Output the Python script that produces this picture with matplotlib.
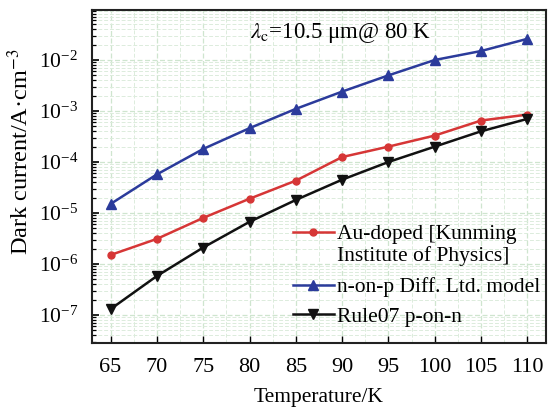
import matplotlib
matplotlib.use("Agg")
import matplotlib.pyplot as plt
from matplotlib.lines import Line2D
from matplotlib.ticker import LogLocator, MultipleLocator, NullFormatter

temps = [65, 70, 75, 80, 85, 90, 95, 100, 105, 110]
au_doped = [1.5e-6, 3.1e-6, 8.0e-6, 1.9e-5, 4.3e-5, 1.25e-4, 2.0e-4, 3.3e-4, 6.5e-4, 8.5e-4]
n_on_p = [1.5e-5, 5.7e-5, 1.8e-4, 4.6e-4, 1.1e-3, 2.4e-3, 5.0e-3, 1.0e-2, 1.5e-2, 2.6e-2]
rule07 = [1.3e-7, 5.8e-7, 2.1e-6, 6.7e-6, 1.8e-5, 4.5e-5, 1.0e-4, 2.0e-4, 4.0e-4, 7.0e-4]

labels = ["Au-doped [Kunming", "Institute of Physics]", "n-on-p Diff. Ltd. model", "Rule07 p-on-n"]

plt.rcParams['font.family'] = ['Liberation Serif', 'DejaVu Serif']
plt.rcParams['mathtext.fontset'] = 'stix'

fig = plt.figure(figsize=(5.51, 4.08), dpi=100)
ax = fig.add_axes([92/551, 1-343/408, (546-92)/551, (343-10)/408])

l1, = ax.plot(temps, au_doped, color='#d63636', marker='o', markersize=5, lw=1.8)
l2, = ax.plot(temps, n_on_p, color='#2b3b9b', marker='^', markersize=6.5, lw=1.8)
l3, = ax.plot(temps, rule07, color='#111111', marker='v', markersize=6.5, lw=1.8)

ax.set_yscale('log')
ax.set_xlim(63.0, 112.0)
ax.set_ylim(10**-7.55, 10**-1.02)
ax.set_xticks(temps)
ax.xaxis.set_minor_locator(MultipleLocator(2.5))
ax.yaxis.set_major_locator(LogLocator(base=10, numticks=20))
ax.yaxis.set_minor_locator(LogLocator(base=10, subs=range(2, 10), numticks=20))
ax.yaxis.set_minor_formatter(NullFormatter())

ax.grid(True, which='major', color='#cfe5cf', lw=0.9, ls=(0, (4, 2)))
ax.grid(True, which='minor', color='#dcecdc', lw=0.7, ls=(0, (4, 2)))
ax.set_axisbelow(True)

ax.tick_params(axis='both', which='both', direction='in', top=False, right=False)
ax.tick_params(axis='y', which='major', length=5, width=1.2, labelsize=15.5, pad=10)
ax.tick_params(axis='y', which='minor', length=3, width=0.9)
ax.tick_params(axis='x', which='major', length=5, width=1.0, pad=11, labelsize=16)
ax.tick_params(axis='x', which='minor', length=0)
for s in ax.spines.values():
    s.set_linewidth(1.5)
    s.set_color('#222222')

ax.set_xlabel('Temperature/K', fontsize=15.5, labelpad=8)
ax.set_ylabel('Dark current/A·cm$^{-3}$', fontsize=17.5)
ax.yaxis.set_label_coords(-0.13, 0.574)

ax.text(0.348, 0.967, r'$\lambda_{\rm c}$=10.5 μm@ 80 K', transform=ax.transAxes,
        fontsize=16.5, va='top', ha='left')

blank = Line2D([], [], color='none')
legA = ax.legend([l1, blank], labels[:2], loc='upper left', bbox_to_anchor=(293/551, 1-224/408),
                 bbox_transform=fig.transFigure, frameon=False, fontsize=15.5,
                 handlelength=1.9, handletextpad=0.15, labelspacing=0.1,
                 borderpad=0, borderaxespad=0)
ax.add_artist(legA)
legB = ax.legend([l2, l3], labels[2:], loc='upper left', bbox_to_anchor=(293/551, 1-277/408),
                 bbox_transform=fig.transFigure, frameon=False, fontsize=15.5,
                 handlelength=1.9, handletextpad=0.15, labelspacing=0.45,
                 borderpad=0, borderaxespad=0)

fig.savefig('out.png', dpi=100)
